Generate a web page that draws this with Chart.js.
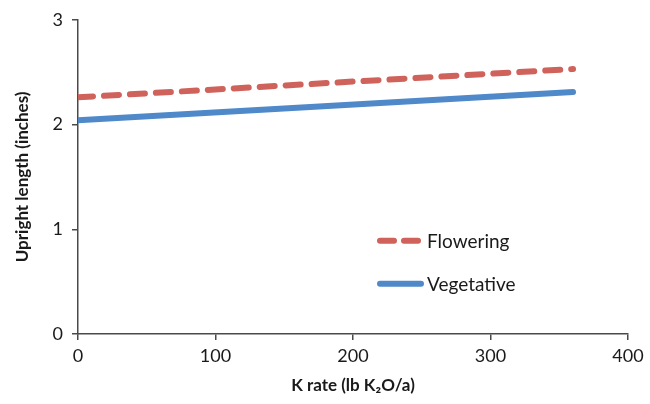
<!DOCTYPE html>
<html>
<head>
<meta charset="utf-8">
<script src="https://cdn.jsdelivr.net/npm/chart.js@4"></script>
<style>
  html, body { margin: 0; padding: 0; background: #fff; }
  #wrap { width: 650px; height: 404px; position: relative; }
</style>
</head>
<body>
<div id="wrap"><canvas id="chart" width="650" height="404"></canvas></div>
<script>
// data
const rates = [0, 360];
const flowering = [2.26, 2.53];
const vegetative = [2.04, 2.31];
const xTicks = [0, 100, 200, 300, 400];
const yTicks = [0, 1, 2, 3];
const seriesNames = ["Flowering", "Vegetative"];

const redColor = "#D0625C";
const blueColor = "#4F89C9";
const axisColor = "#4a4a4a";
const textColor = "#1a1a1a";
const fontFamily = "Lato, 'Open Sans', sans-serif";

function toPoints(xs, ys) {
  return xs.map((x, i) => ({ x: x, y: ys[i] }));
}

// legend drawn inside the plot area
const innerLegend = {
  id: "innerLegend",
  afterDatasetsDraw(chart) {
    const ctx = chart.ctx;
    const area = chart.chartArea;
    const items = [
      { label: seriesNames[0], color: redColor, dash: [14, 10] },
      { label: seriesNames[1], color: blueColor, dash: [] }
    ];
    const x0 = area.left + 299;
    ctx.save();
    ctx.font = "19px " + fontFamily;
    ctx.textBaseline = "middle";
    items.forEach((it, i) => {
      const y = area.top + 221 + i * 43;
      ctx.beginPath();
      ctx.setLineDash(it.dash);
      ctx.lineCap = "round";
      ctx.lineWidth = 6;
      ctx.strokeStyle = it.color;
      ctx.moveTo(x0 + 3, y);
      ctx.lineTo(x0 + 44, y);
      ctx.stroke();
      ctx.setLineDash([]);
      ctx.fillStyle = textColor;
      ctx.fillText(it.label, x0 + 50, y + 1);
    });
    ctx.restore();
  }
};

new Chart(document.getElementById("chart").getContext("2d"), {
  type: "line",
  data: {
    datasets: [
      {
        label: seriesNames[0],
        data: toPoints(rates, flowering),
        borderColor: redColor,
        borderWidth: 6,
        borderDash: [15, 11],
        borderCapStyle: "round",
        pointRadius: 0,
        fill: false
      },
      {
        label: seriesNames[1],
        data: toPoints(rates, vegetative),
        borderColor: blueColor,
        borderWidth: 6,
        borderCapStyle: "round",
        pointRadius: 0,
        fill: false
      }
    ]
  },
  options: {
    responsive: false,
    animation: false,
    layout: { padding: { left: 12, right: 22, top: 19, bottom: 8 } },
    plugins: {
      legend: { display: false },
      tooltip: { enabled: false }
    },
    scales: {
      x: {
        type: "linear",
        min: 0,
        max: 400,
        afterBuildTicks: axis => { axis.ticks = xTicks.map(v => ({ value: v })); },
        afterFit: axis => { axis.height = 62; },
        grid: { drawOnChartArea: false, drawTicks: true, tickLength: 6, color: axisColor, lineWidth: 1.5 },
        border: { color: axisColor, width: 1.5 },
        ticks: { color: textColor, font: { family: fontFamily, size: 18 }, padding: 5 },
        title: {
          display: true,
          text: "K rate (lb K\u2082O/a)",
          color: textColor,
          font: { family: fontFamily, size: 17, weight: "bold" },
          padding: { top: 2, bottom: 0 }
        }
      },
      y: {
        min: 0,
        max: 3,
        afterBuildTicks: axis => { axis.ticks = yTicks.map(v => ({ value: v })); },
        afterFit: axis => { axis.width = 66; },
        grid: { drawOnChartArea: false, drawTicks: true, tickLength: 6, color: axisColor, lineWidth: 1.5 },
        border: { color: axisColor, width: 1.5 },
        ticks: { color: textColor, font: { family: fontFamily, size: 18 }, padding: 9 },
        title: {
          display: true,
          text: "Upright length (inches)",
          color: textColor,
          font: { family: fontFamily, size: 17, weight: "bold" },
          padding: { top: 0, bottom: 0 }
        }
      }
    }
  },
  plugins: [innerLegend]
});
</script>
</body>
</html>
